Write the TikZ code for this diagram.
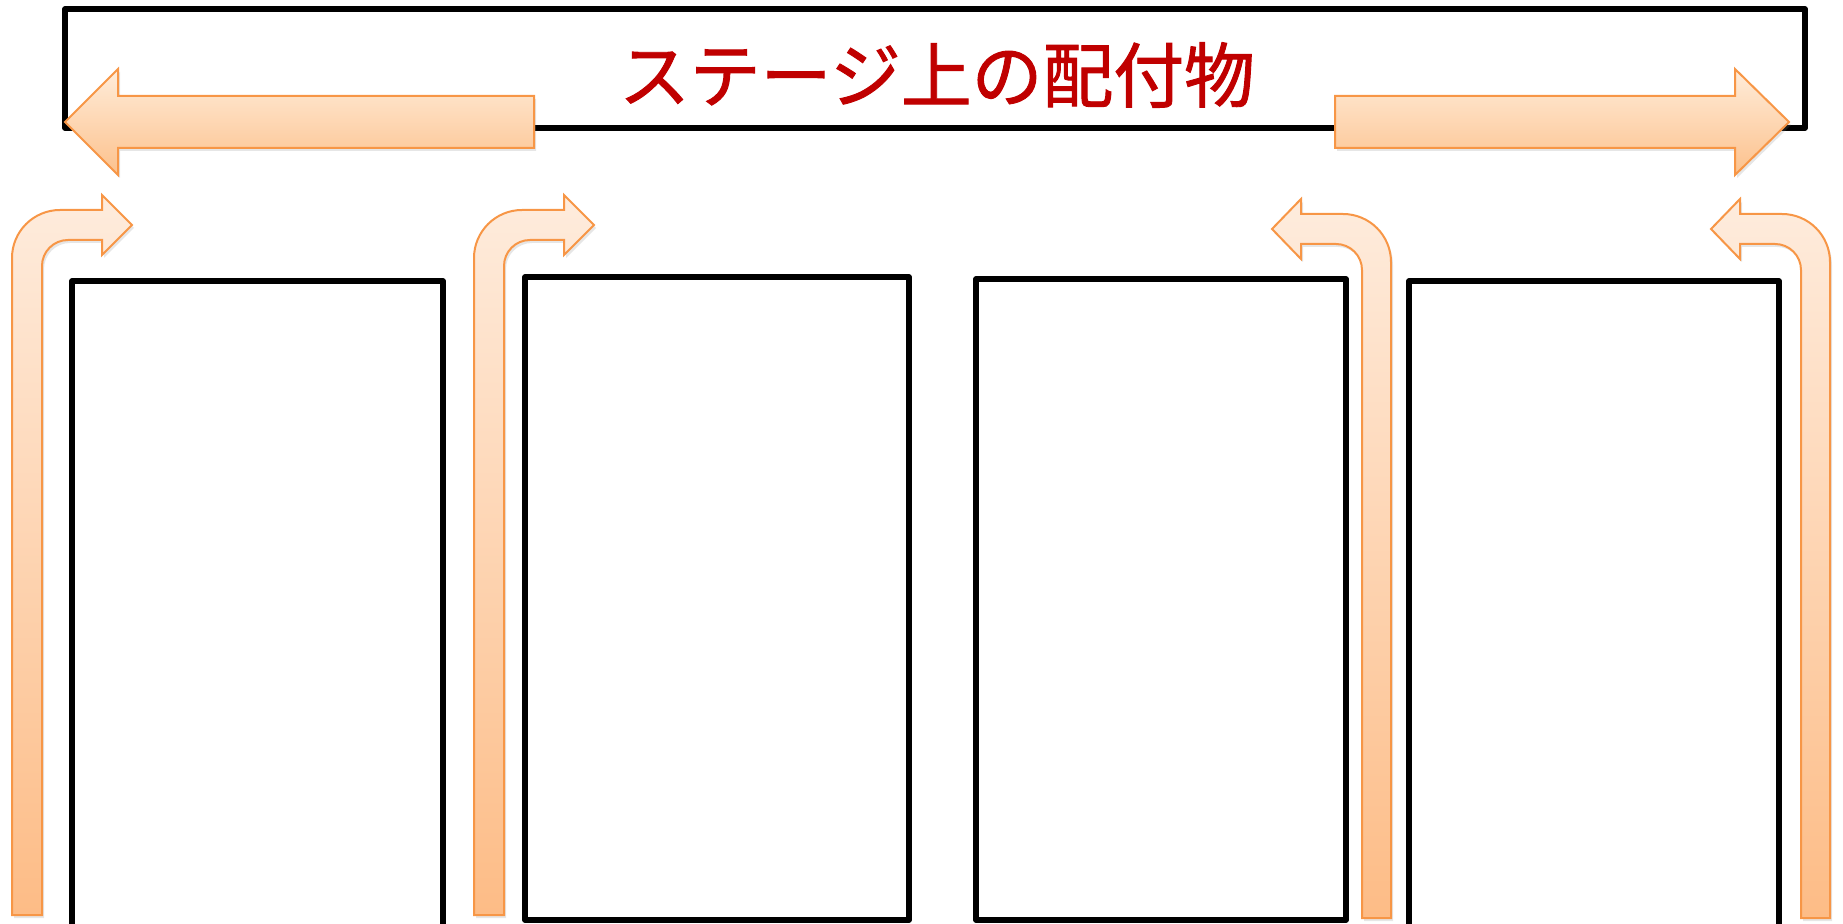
\documentclass[tikz,border=0pt]{standalone}
\usepackage{fontspec}
\newfontfamily\jpfont[FakeBold=1.3]{Noto Sans CJK JP}
\usetikzlibrary{shadows}
\definecolor{arrowline}{HTML}{F79646}
\definecolor{titlered}{HTML}{C00000}
\tikzset{
  panel/.style={line width=2.7pt, line join=round},
  bigarrow/.style={draw=arrowline, line width=1pt, top color=orange!10!white!95!orange, bottom color={rgb,255:red,252;green,193;blue,140},
    drop shadow={shadow xshift=1pt, shadow yshift=-1.5pt, opacity=0.2}},
  bentarrow/.style={draw=arrowline, line width=1pt, top color={rgb,255:red,254;green,236;blue,221}, bottom color={rgb,255:red,253;green,188;blue,134},
    drop shadow={shadow xshift=1pt, shadow yshift=-1.5pt, opacity=0.2}}
}
\begin{document}
\begin{tikzpicture}[x=0.5pt, y=-0.5pt]
  \useasboundingbox (0, 0) rectangle (1843, 924);

  % stage
  \draw [panel] (65, 9) rectangle (1805, 128);
  \node (title) at (937, 75) {\jpfont\fontsize{35.4}{40}\selectfont\color{titlered}ステージ上の配付物};

  % panels
  \draw [panel] (72, 281) rectangle (443, 930);
  \draw [panel] (525, 277) rectangle (909, 920);
  \draw [panel] (976, 279) rectangle (1346, 920);
  \draw [panel] (1409, 281) rectangle (1779, 930);

  % big arrows
  \draw [bigarrow] (534, 96) -- (118, 96) -- (118, 69) -- (65, 122) -- (118, 175) -- (118, 148) -- (534, 148) -- cycle;
  \draw [bigarrow] (1335, 96) -- (1735, 96) -- (1735, 69) -- (1789, 122) -- (1735, 175) -- (1735, 148) -- (1335, 148) -- cycle;

  % bent arrows, left side
  \foreach \dx in {0, 462} {
    \draw [bentarrow, xshift=\dx*0.5pt] (12, 915) -- (12, 258) arc [start angle=180, end angle=270, radius=48]
      -- (102, 210) -- (102, 195) -- (132, 225) -- (102, 255) -- (102, 240) -- (68, 240)
      arc [start angle=270, end angle=180, radius=26] -- (42, 915) -- cycle;
  }
  % bent arrows, right side
  \foreach \dx in {0, 439} {
    \draw [bentarrow, xshift=\dx*0.5pt] (1391, 918) -- (1391, 262) arc [start angle=0, end angle=-90, radius=48]
      -- (1301, 214) -- (1301, 199) -- (1272, 229) -- (1301, 259) -- (1301, 244) -- (1336, 244)
      arc [start angle=-90, end angle=0, radius=26] -- (1362, 918) -- cycle;
  }
\end{tikzpicture}
\end{document}
